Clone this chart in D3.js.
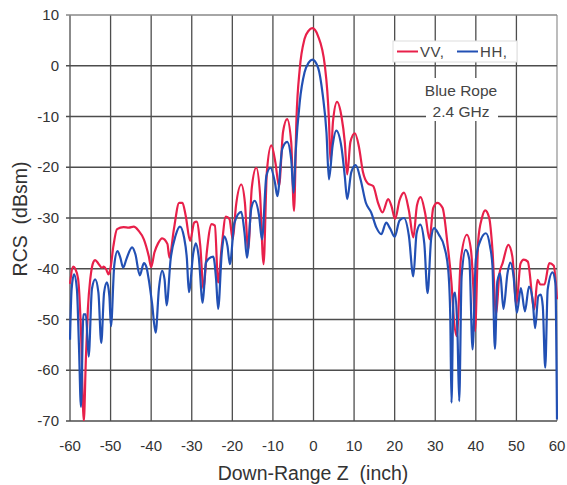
<!DOCTYPE html>
<html><head><meta charset="utf-8">
<script src="https://cdn.jsdelivr.net/npm/d3@7"></script>
<style>body{margin:0;background:#fff}svg{display:block}text{white-space:pre}</style>
</head><body>
<svg id="c" width="567" height="485"></svg>
<script>
const xTicks = [-60,-50,-40,-30,-20,-10,0,10,20,30,40,50,60];
const yTicks = [10,0,-10,-20,-30,-40,-50,-60,-70];
const seriesNames = ["VV,", "HH,"];
const annotation = ["Blue Rope", "2.4 GHz"];
const xTitle = "Down-Range Z  (inch)";
const yTitle = "RCS  (dBsm)";

const vvPoints = [[-60,-43],[-59.2,-39.6],[-58.7,-40],[-58,-42],[-57.3,-52],[-56.6,-70],[-56.1,-58],[-55.6,-48],[-55,-42],[-54.2,-38.6],[-53.8,-38.3],[-53,-39],[-52.1,-39.8],[-51.7,-39.6],[-51.1,-40.1],[-50.5,-41.1],[-50,-39.8],[-49.3,-35.5],[-48.4,-32.2],[-46.8,-31.8],[-45.5,-31.9],[-44.3,-31.7],[-43.1,-32.5],[-41.8,-34.2],[-40.6,-37.5],[-40,-39.7],[-39.2,-36.8],[-38.3,-35],[-37.3,-34],[-36,-35.1],[-35.5,-37.8],[-34.4,-32.2],[-33.1,-27],[-32.3,-27],[-31.5,-29.5],[-30.4,-34.5],[-29.4,-30.9],[-28.8,-30.7],[-27.9,-35.5],[-27.1,-44],[-26.3,-36.8],[-25.1,-31.2],[-24.3,-31.5],[-23.5,-42.7],[-22.6,-35.5],[-21.6,-29.7],[-20.7,-30.2],[-19.9,-34.2],[-19.1,-27.6],[-17.8,-23.4],[-16.9,-27],[-16.1,-36.2],[-15.2,-24],[-14.1,-20.1],[-13.2,-25],[-12.3,-39.1],[-11.5,-21],[-10.4,-15.7],[-9.4,-19],[-8.5,-23.7],[-7.5,-13],[-6.5,-10.5],[-5.5,-15],[-4.8,-28.6],[-4.2,-10.5],[-3.4,-0.7],[-2.2,5.3],[-1.2,6.9],[-0.3,7.4],[1.1,5.9],[2.8,0],[3.4,-5],[3.8,-10.5],[4.2,-19],[4.8,-11],[5.8,-7.1],[6.9,-10],[7.7,-15],[8.3,-21.4],[9.1,-15],[10.2,-13.3],[11.2,-16],[12.2,-21],[13.4,-23.2],[14.7,-23.7],[15.9,-27],[17,-28.9],[18.4,-26.3],[19.2,-27.6],[20.1,-30.2],[21.2,-26.5],[22.3,-25],[23.5,-28.5],[24.6,-33.8],[25.5,-27.5],[26.4,-25.9],[27.5,-29],[28.6,-34.2],[29.5,-28],[30.5,-27],[31.8,-28],[33,-35],[34,-42.8],[34.6,-50],[35.3,-53.3],[36.3,-38.2],[37.8,-33.3],[38.8,-36.3],[39.4,-44],[39.8,-52.3],[40.6,-34.3],[41.5,-30],[42.3,-28.5],[43.3,-30],[44.1,-36.3],[45,-49],[45.8,-41],[46.6,-38.9],[48,-35.3],[49,-37.6],[50,-47],[51,-39],[51.8,-38.2],[52.8,-38.6],[54.4,-48],[55.2,-42.2],[55.9,-43.1],[56.9,-43.1],[58.1,-38.9],[59.2,-39.4],[60,-46]];

const hhPoints = [[-60,-54],[-59.6,-44],[-59,-41.1],[-58.3,-44],[-57.8,-55],[-57.3,-67.2],[-56.7,-49],[-56.1,-49],[-55.4,-57.3],[-54.6,-44],[-53.8,-42.1],[-53,-44.7],[-52.3,-54.6],[-51.6,-44.7],[-50.9,-42.7],[-50.3,-45.4],[-49.9,-51.3],[-49.1,-39.4],[-48.3,-36.5],[-47.6,-37.8],[-46.9,-39.8],[-46.1,-38.1],[-44.7,-35.8],[-43.9,-37.1],[-42.8,-41.3],[-41.8,-38.9],[-41.2,-39.6],[-40.6,-42.1],[-39.8,-46.7],[-38.9,-52.6],[-38.1,-44],[-37.3,-40.4],[-36.7,-42.1],[-36.2,-47.2],[-35.2,-38.1],[-34,-33.5],[-32.9,-31.7],[-31.9,-33.8],[-31.2,-38],[-30.7,-44.6],[-29.6,-36.8],[-29,-35],[-28.3,-37.5],[-27.3,-46.7],[-26.5,-38.8],[-25.9,-38.1],[-24.7,-37.6],[-24,-42.1],[-23.5,-47.9],[-22.6,-36.8],[-22,-33.6],[-21.2,-35.5],[-20.6,-39.1],[-19.5,-31],[-17.8,-28.8],[-17,-32.9],[-16.4,-37.8],[-15.3,-28],[-14.5,-26.6],[-13.4,-29.6],[-12.7,-34.2],[-11.6,-21.7],[-10.6,-20.1],[-9.5,-23],[-8.9,-25.7],[-7.7,-16.4],[-6.5,-15],[-5.5,-18.4],[-4.9,-25],[-4.4,-17.1],[-3.4,-7.2],[-2.2,-1.3],[-1.2,0.6],[-0.3,1.2],[1.1,-0.3],[2.3,-5.9],[3.2,-13.2],[3.8,-22.4],[4.7,-15.8],[5.6,-12.8],[6.9,-16.1],[7.7,-21.7],[8.3,-26.3],[9.3,-21],[10.4,-19.6],[11.6,-22.4],[12.9,-27],[14.2,-28.9],[15.5,-31.9],[16.7,-33.2],[17.9,-30.9],[18.9,-32.1],[20,-33.7],[21.2,-30.5],[22.3,-30],[23.5,-33.5],[24.6,-41.5],[25.4,-33],[26.3,-31.3],[27.3,-35],[28.1,-44.8],[29,-34],[29.7,-32],[30.9,-33.3],[32.2,-35.6],[33.2,-40.2],[33.7,-49.4],[34,-66.4],[34.5,-45.4],[34.9,-44.7],[35.5,-53.3],[35.9,-66.1],[36.5,-41.5],[37.5,-36.3],[38.4,-38.2],[39.2,-55.9],[40,-38.2],[41.2,-34.3],[42.5,-33],[43.5,-35.6],[44.1,-39.5],[44.7,-55.8],[45.3,-42.5],[46,-40.9],[46.8,-47.9],[47.8,-40.9],[48.5,-38.8],[49.3,-41.5],[50.1,-48.7],[51.1,-43.8],[52.1,-48.4],[53.1,-43.5],[54,-46.1],[54.6,-51.7],[55.4,-45.4],[56,-45.1],[56.5,-47.4],[57.1,-59.5],[57.7,-44.1],[58.9,-40.7],[59.6,-42.8],[60,-69.7]];

const svg = d3.select("#c");
const L = 70, R = 557, T = 15, B = 421;
const x = d3.scaleLinear().domain([-60, 60]).range([L, R]);
const y = d3.scaleLinear().domain([-70, 10]).range([B, T]);
const font = "'Liberation Sans', Arial, sans-serif";
const gridColor = "#4d4d4d";

// grid
const g = svg.append("g");
g.selectAll(".vx").data(xTicks).join("line")
  .attr("x1", d => x(d)).attr("x2", d => x(d)).attr("y1", T).attr("y2", B)
  .attr("stroke", (d,i) => i === xTicks.length-1 ? "#999" : gridColor).attr("stroke-width", 1.3);
g.selectAll(".hy").data(yTicks).join("line")
  .attr("x1", L - 4).attr("x2", R).attr("y1", d => y(d)).attr("y2", d => y(d))
  .attr("stroke", (d,i) => i === 0 ? "#888" : gridColor).attr("stroke-width", 1.3);

// annotation background
svg.append("rect").attr("x", 426).attr("y", 78).attr("width", 72).attr("height", 43).attr("fill", "#fff");
svg.append("text").attr("x", 461).attr("y", 96).attr("text-anchor", "middle")
  .attr("font-family", font).attr("font-size", 15.5).attr("fill", "#444").text(annotation[0]);
svg.append("text").attr("x", 461).attr("y", 117).attr("text-anchor", "middle")
  .attr("font-family", font).attr("font-size", 15.5).attr("fill", "#444").text(annotation[1]);

// axes labels
svg.append("g").selectAll("text").data(xTicks).join("text")
  .attr("x", d => x(d)).attr("y", 450.5).attr("text-anchor", "middle")
  .attr("font-family", font).attr("font-size", 15).attr("fill", "#333").text(d => d);
svg.append("g").selectAll("text").data(yTicks).join("text")
  .attr("x", 59).attr("y", d => y(d) + 5.2).attr("text-anchor", "end")
  .attr("font-family", font).attr("font-size", 15).attr("fill", "#333").text(d => d);

svg.append("text").attr("x", 313).attr("y", 480).attr("text-anchor", "middle")
  .attr("font-family", font).attr("font-size", 19.5).attr("fill", "#333").text(xTitle);
svg.append("text").attr("transform", "translate(27,219) rotate(-90)").attr("text-anchor", "middle")
  .attr("font-family", font).attr("font-size", 19.5).attr("fill", "#333").text(yTitle);

// lines
svg.append("clipPath").attr("id", "clip").append("rect")
  .attr("x", L - 1).attr("y", T).attr("width", R - L + 2).attr("height", B - T);
const line = d3.line().x(d => x(d[0])).y(d => y(d[1])).curve(d3.curveMonotoneX);
const colors = ["#e8204a", "#2250b4"];
const lg = svg.append("g").attr("clip-path", "url(#clip)");
lg.append("path").datum(vvPoints).attr("d", line).attr("fill", "none")
  .attr("stroke", colors[0]).attr("stroke-width", 2.2).attr("stroke-linejoin", "round");
lg.append("path").datum(hhPoints).attr("d", line).attr("fill", "none")
  .attr("stroke", colors[1]).attr("stroke-width", 2.2).attr("stroke-linejoin", "round");

// legend
svg.append("rect").attr("x", 393).attr("y", 41).attr("width", 124).attr("height", 21)
  .attr("fill", "#fff").attr("stroke", "#ddd").attr("stroke-width", 1);
const leg = [{x: 397, c: colors[0], t: seriesNames[0]}, {x: 457, c: colors[1], t: seriesNames[1]}];
leg.forEach(l => {
  svg.append("line").attr("x1", l.x).attr("x2", l.x + 21).attr("y1", 51.5).attr("y2", 51.5)
    .attr("stroke", l.c).attr("stroke-width", 2);
  svg.append("text").attr("x", l.x + 23).attr("y", 57).attr("font-family", font)
    .attr("font-size", 15).attr("letter-spacing", 0.6).attr("fill", "#444").text(l.t);
});
</script>
</body></html>
